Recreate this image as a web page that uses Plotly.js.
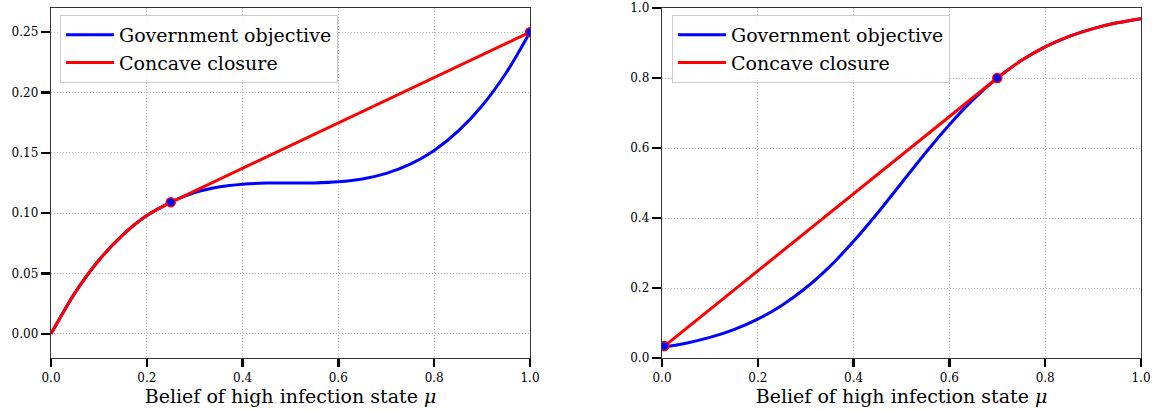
<!DOCTYPE html>
<html>
<head>
<meta charset="utf-8">
<script src="https://cdn.plot.ly/plotly-3.0.1.min.js"></script>
<style>
html,body{margin:0;padding:0;background:#fff;}
#chart{width:1157px;height:410px;}
</style>
</head>
<body>
<div id="chart"></div>
<script>
// ---- Data ----
const xTickVals = [0, 0.2, 0.4, 0.6, 0.8, 1.0];
const xTickText = ["0.0", "0.2", "0.4", "0.6", "0.8", "1.0"];
const yTickValsL = [0, 0.05, 0.10, 0.15, 0.20, 0.25];
const yTickTextL = ["0.00", "0.05", "0.10", "0.15", "0.20", "0.25"];
const yTickValsR = [0, 0.2, 0.4, 0.6, 0.8, 1.0];
const yTickTextR = ["0.0", "0.2", "0.4", "0.6", "0.8", "1.0"];

// Left panel
const muL = [0, 0.05, 0.1, 0.15, 0.2, 0.25, 0.3, 0.35, 0.4, 0.45, 0.5, 0.55, 0.6, 0.65, 0.7, 0.75, 0.8, 0.85, 0.9, 0.95, 1.0];
const govL = [0, 0.034, 0.061, 0.082, 0.098, 0.109, 0.117, 0.1216, 0.124, 0.1249, 0.125, 0.1251, 0.126, 0.1284, 0.133, 0.1406, 0.152, 0.1679, 0.189, 0.2161, 0.25];
const closCurveXL = [0, 0.05, 0.1, 0.15, 0.2, 0.25];
const closCurveYL = [0, 0.034, 0.061, 0.082, 0.098, 0.109];
const closLineXL = [0.25, 1.0];
const closLineYL = [0.109, 0.25];
const ptsXL = [0.25, 1.0];
const ptsYL = [0.109, 0.25];

// Right panel
const muR = [0, 0.05, 0.1, 0.15, 0.2, 0.25, 0.3, 0.35, 0.4, 0.45, 0.5, 0.55, 0.6, 0.65, 0.7, 0.75, 0.8, 0.85, 0.9, 0.95, 1.0];
const govR = [0.0303, 0.0423, 0.0588, 0.0812, 0.1111, 0.1502, 0.2, 0.2612, 0.3333, 0.4142, 0.5, 0.5858, 0.6667, 0.7388, 0.8, 0.8498, 0.8889, 0.9188, 0.9412, 0.9577, 0.9697];
const closLineXR = [0.005, 0.7];
const closLineYR = [0.034, 0.8];
const closCurveXR = [0.7, 0.75, 0.8, 0.85, 0.9, 0.95, 1.0];
const closCurveYR = [0.8, 0.8498, 0.8889, 0.9188, 0.9412, 0.9577, 0.9697];
const ptsXR = [0.005, 0.7];
const ptsYR = [0.034, 0.8];

const names = ["Government objective", "Concave closure"];

// ---- Styles ----
const BLUE = "#0000ff", RED = "#ff0000";
const LW = 3;
const FONT = "DejaVu Serif, Liberation Serif, serif";

function lineTrace(x, y, color, xa, ya, opts) {
  return Object.assign({
    x: x, y: y, xaxis: xa, yaxis: ya, type: "scatter", mode: "lines",
    line: {color: color, width: LW}, hoverinfo: "skip"
  }, opts || {});
}
function markerTrace(x, y, xa, ya) {
  return {
    x: x, y: y, xaxis: xa, yaxis: ya, type: "scatter", mode: "markers",
    marker: {color: BLUE, size: 9, line: {color: RED, width: 1.5}},
    showlegend: false, hoverinfo: "skip"
  };
}

const traces = [
  lineTrace(muL, govL, BLUE, "x", "y", {name: names[0], line: {color: BLUE, width: LW, shape: "spline", smoothing: 0.8}, legend: "legend"}),
  lineTrace(closCurveXL, closCurveYL, RED, "x", "y", {name: names[1], line: {color: RED, width: LW, shape: "spline", smoothing: 0.8}, legend: "legend"}),
  lineTrace(closLineXL, closLineYL, RED, "x", "y", {showlegend: false}),
  markerTrace(ptsXL, ptsYL, "x", "y"),

  lineTrace(muR, govR, BLUE, "x2", "y2", {name: names[0], line: {color: BLUE, width: LW, shape: "spline", smoothing: 0.8}, legend: "legend2"}),
  lineTrace(closLineXR, closLineYR, RED, "x2", "y2", {name: names[1], legend: "legend2"}),
  lineTrace(closCurveXR, closCurveYR, RED, "x2", "y2", {showlegend: false, line: {color: RED, width: LW, shape: "spline", smoothing: 0.8}}),
  markerTrace(ptsXR, ptsYR, "x2", "y2")
];

const W = 1157, H = 410;
const yDom = [1 - 358 / H, 1 - 8 / H];

const GRID = {showgrid: true, gridcolor: "#b8b8b8", gridwidth: 1, griddash: "1px,2px"};

function xAxis(dom, anchor) {
  return Object.assign({
    domain: dom, anchor: anchor, range: [0, 1],
    tickvals: xTickVals, ticktext: xTickText,
    ticks: "outside", ticklen: 8, tickwidth: 2.5, tickcolor: "#000",
    showline: true, linecolor: "#333", linewidth: 1.3, mirror: true,
    zeroline: false, automargin: false,
    tickfont: {family: FONT, size: 12, color: "#000"},
    title: {text: "Belief of high infection state <i>μ</i>", font: {family: FONT, size: 19, color: "#000"}, standoff: 4}
  }, GRID);
}
function yAxis(dom, anchor, range, tv, tt) {
  return Object.assign({
    domain: dom, anchor: anchor, range: range,
    tickvals: tv, ticktext: tt,
    ticks: "outside", ticklen: 9, tickwidth: 2.5, tickcolor: "#000",
    showline: true, linecolor: "#333", linewidth: 1.3, mirror: true,
    zeroline: false, automargin: false,
    tickfont: {family: FONT, size: 12, color: "#000"}
  }, GRID);
}
function legendCfg(xpx) {
  return {
    x: xpx / W, y: 1 - 15 / H, xanchor: "left", yanchor: "top",
    bgcolor: "rgba(255,255,255,0.85)", bordercolor: "#cccccc", borderwidth: 1,
    itemwidth: 48,
    font: {family: FONT, size: 19, color: "#000"}
  };
}

const layout = {
  width: W, height: H,
  margin: {l: 0, r: 0, t: 0, b: 0},
  paper_bgcolor: "#fff", plot_bgcolor: "#fff",
  showlegend: true,
  xaxis: xAxis([51 / W, 530 / W], "y"),
  yaxis: yAxis(yDom, "x", [-0.02, 0.27], yTickValsL, yTickTextL),
  xaxis2: xAxis([662 / W, 1141 / W], "y2"),
  yaxis2: yAxis(yDom, "x2", [0, 1], yTickValsR, yTickTextR),
  legend: legendCfg(60),
  legend2: legendCfg(672)
};

Plotly.newPlot("chart", traces, layout, {displayModeBar: false, staticPlot: true});
</script>
</body>
</html>
